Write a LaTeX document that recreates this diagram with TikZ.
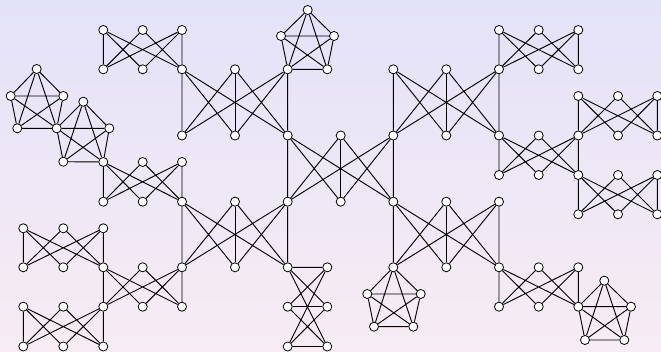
\documentclass[tikz,border=0pt]{standalone}
\pgfdeclarelayer{bgfill}
\pgfdeclarelayer{edges}
\pgfsetlayers{bgfill,edges,main}
\definecolor{topc}{RGB}{228,226,249}
\definecolor{botc}{RGB}{247,236,243}
\tikzset{
  v/.style={circle,draw=black,fill=white,line width=0.6pt,inner sep=0pt,minimum size=6.8pt},
  e/.style={draw=black,line width=0.7pt}
}
\newcommand\SGad[6]{\draw[e] (#1)--(#4) (#3)--(#6) (#1)--(#5) (#1)--(#6) (#2)--(#4) (#2)--(#6) (#3)--(#4) (#3)--(#5);}
\newcommand\BGad[6]{\SGad{#1}{#2}{#3}{#4}{#5}{#6}\draw[e] (#2)--(#5);}
\newcommand\KFive[5]{\draw[e] (#1)--(#2) (#1)--(#3) (#1)--(#4) (#1)--(#5) (#2)--(#3) (#2)--(#4) (#2)--(#5) (#3)--(#4) (#3)--(#5) (#4)--(#5);}
\begin{document}
\begin{tikzpicture}[x=0.75pt,y=-0.75pt]
\useasboundingbox (0,0) rectangle (661,352);
\begin{pgfonlayer}{bgfill}
\shade[top color=topc,bottom color=botc] (0,0) rectangle (661,352);
\end{pgfonlayer}
% A
\node[v] (a1) at (103.3,30) {};
\node[v] (a2) at (142.7,30) {};
\node[v] (a3) at (182,30) {};
\node[v] (a4) at (103.3,69.3) {};
\node[v] (a5) at (142.7,69.3) {};
% B
\node[v] (b1) at (182,69.3) {};
\node[v] (b2) at (235,69.3) {};
\node[v] (b3) at (287.7,69.3) {};
\node[v] (b4) at (182,135.5) {};
\node[v] (b5) at (235,135.5) {};
% P top
\node[v] (pt1) at (307.7,10) {};
\node[v] (pt2) at (281,36) {};
\node[v] (pt3) at (334,36) {};
\node[v] (pt5) at (327.3,69.3) {};
% C
\node[v] (c1) at (287.7,135.5) {};
\node[v] (c2) at (340.7,135.5) {};
\node[v] (c3) at (393.3,135.5) {};
\node[v] (c4) at (287.7,201.7) {};
\node[v] (c5) at (340.7,201.7) {};
\node[v] (c6) at (393.3,201.7) {};
% D
\node[v] (d1) at (393.3,69.3) {};
\node[v] (d2) at (446.3,69.3) {};
\node[v] (d3) at (499,69.3) {};
\node[v] (d5) at (446.3,135.5) {};
\node[v] (d6) at (499,135.5) {};
% E
\node[v] (e1) at (499,30) {};
\node[v] (e2) at (538.7,30) {};
\node[v] (e3) at (578.3,30) {};
\node[v] (e5) at (538.7,69.3) {};
\node[v] (e6) at (578.3,69.3) {};
% F
\node[v] (f2) at (538.7,135.5) {};
\node[v] (f3) at (578.3,135.5) {};
\node[v] (f4) at (499,175) {};
\node[v] (f5) at (538.7,175) {};
\node[v] (f6) at (578.3,175) {};
% G
\node[v] (g1) at (578.3,96) {};
\node[v] (g2) at (618,96) {};
\node[v] (g3) at (657.3,96) {};
\node[v] (g5) at (618,135.5) {};
\node[v] (g6) at (657.3,135.5) {};
% H
\node[v] (h2) at (618,175) {};
\node[v] (h3) at (657.3,175) {};
\node[v] (h4) at (578.3,214.3) {};
\node[v] (h5) at (618,214.3) {};
\node[v] (h6) at (657.3,214.3) {};
% P1
\node[v] (p11) at (36.7,69) {};
\node[v] (p12) at (10.7,96) {};
\node[v] (p13) at (63.3,96) {};
\node[v] (p14) at (17.3,128.3) {};
\node[v] (p15) at (56.7,128.3) {};
% P2
\node[v] (p21) at (83.3,101.7) {};
\node[v] (p23) at (109.3,128.3) {};
\node[v] (p24) at (63.3,161.7) {};
% J
\node[v] (j1) at (103.3,162) {};
\node[v] (j2) at (142.7,162) {};
\node[v] (j3) at (182,162) {};
\node[v] (j4) at (103.3,201.7) {};
\node[v] (j5) at (142.7,201.7) {};
% I
\node[v] (i1) at (182,201.7) {};
\node[v] (i2) at (235,201.7) {};
\node[v] (i4) at (182,267.3) {};
\node[v] (i5) at (235,267.3) {};
\node[v] (i6) at (287.7,267.3) {};
% K1
\node[v] (k1) at (23.3,228.3) {};
\node[v] (k2) at (63.3,228.3) {};
\node[v] (k3) at (103.3,228.3) {};
\node[v] (k4) at (23.3,267.3) {};
\node[v] (k5) at (63.3,267.3) {};
% L
\node[v] (l1) at (103.3,267.3) {};
\node[v] (l2) at (142.7,267.3) {};
\node[v] (l4) at (103.3,306.7) {};
\node[v] (l5) at (142.7,306.7) {};
\node[v] (l6) at (182,306.7) {};
% K2
\node[v] (m1) at (23.3,306.7) {};
\node[v] (m2) at (63.3,306.7) {};
\node[v] (m4) at (23.3,346.5) {};
\node[v] (m5) at (63.3,346.5) {};
\node[v] (m6) at (103.3,346.5) {};
% M vertical
\node[v] (n2) at (327.3,267.3) {};
\node[v] (n3) at (287.7,306.7) {};
\node[v] (n4) at (327.3,306.7) {};
\node[v] (n5) at (287.7,346.5) {};
\node[v] (n6) at (327.3,346.5) {};
% K
\node[v] (q2) at (446.3,201.7) {};
\node[v] (q3) at (499,201.7) {};
\node[v] (q4) at (393.3,267.3) {};
\node[v] (q5) at (446.3,267.3) {};
\node[v] (q6) at (499,267.3) {};
% P bottom
\node[v] (pb2) at (367.3,294) {};
\node[v] (pb3) at (420.7,294) {};
\node[v] (pb4) at (374,326.7) {};
\node[v] (pb5) at (413.3,326.7) {};
% N
\node[v] (r2) at (538.7,267.3) {};
\node[v] (r3) at (578.3,267.3) {};
\node[v] (r4) at (499,306.7) {};
\node[v] (r5) at (538.7,306.7) {};
\node[v] (r6) at (578.3,306.7) {};
% P br
\node[v] (ps1) at (604.3,280.7) {};
\node[v] (ps3) at (631,306.7) {};
\node[v] (ps4) at (585,340) {};
\node[v] (ps5) at (624.3,340) {};
\begin{pgfonlayer}{edges}
\SGad{a1}{a2}{a3}{a4}{a5}{b1}
\BGad{b1}{b2}{b3}{b4}{b5}{c1}
\KFive{pt1}{pt2}{pt3}{b3}{pt5}
\BGad{c1}{c2}{c3}{c4}{c5}{c6}
\BGad{d1}{d2}{d3}{c3}{d5}{d6}
\SGad{e1}{e2}{e3}{d3}{e5}{e6}
\SGad{d6}{f2}{f3}{f4}{f5}{f6}
\SGad{g1}{g2}{g3}{f3}{g5}{g6}
\SGad{f6}{h2}{h3}{h4}{h5}{h6}
\KFive{p11}{p12}{p13}{p14}{p15}
\KFive{p21}{p15}{p23}{p24}{j1}
\SGad{j1}{j2}{j3}{j4}{j5}{i1}
\BGad{i1}{i2}{c4}{i4}{i5}{i6}
\SGad{k1}{k2}{k3}{k4}{k5}{l1}
\SGad{l1}{l2}{i4}{l4}{l5}{l6}
\SGad{m1}{m2}{l4}{m4}{m5}{m6}
\BGad{i6}{n3}{n5}{n2}{n4}{n6}
\BGad{c6}{q2}{q3}{q4}{q5}{q6}
\KFive{q4}{pb2}{pb3}{pb4}{pb5}
\SGad{q6}{r2}{r3}{r4}{r5}{r6}
\KFive{ps1}{r6}{ps3}{ps4}{ps5}
\end{pgfonlayer}
\end{tikzpicture}
\end{document}
